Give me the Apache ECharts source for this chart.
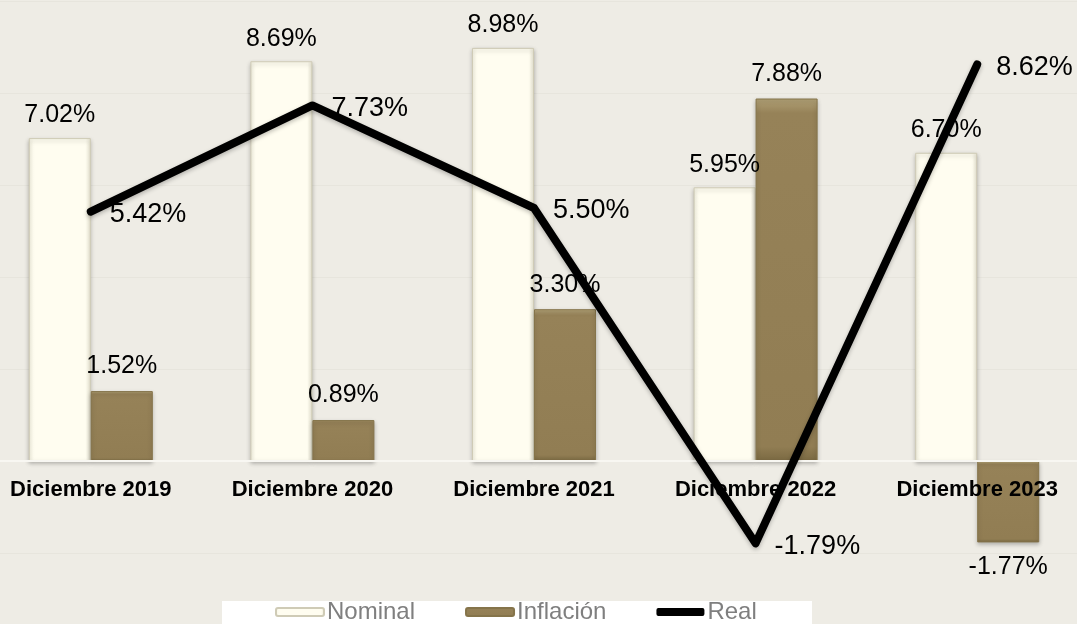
<!DOCTYPE html>
<html>
<head>
<meta charset="utf-8">
<script src="https://cdn.jsdelivr.net/npm/echarts@6/dist/echarts.min.js"></script>
<style>
html,body{margin:0;padding:0;background:#EEECE5;}
#c{width:1077px;height:624px;}
</style>
</head>
<body>
<div id="c"></div>
<script>
const categories = ['Diciembre 2019', 'Diciembre 2020', 'Diciembre 2021', 'Diciembre 2022', 'Diciembre 2023'];
const nominal = [7.02, 8.69, 8.98, 5.95, 6.70];
const inflacion = [1.52, 0.89, 3.30, 7.88, -1.77];
const real = [5.42, 7.73, 5.50, -1.79, 8.62];

const fmt = p => p.value.toFixed(2) + '%';
const font = '"Liberation Sans", Arial, sans-serif';

const chart = echarts.init(document.getElementById('c'));
chart.setOption({
  backgroundColor: '#EEECE5',
  animation: false,
  textStyle: { fontFamily: font },
  graphic: [{
    type: 'rect', left: 222, top: 601, z: -1,
    shape: { width: 590, height: 30 },
    style: { fill: '#FFFFFF' }
  }],
  legend: {
    left: 275, top: 600, padding: 0,
    itemWidth: 48, itemHeight: 8, itemGap: 50,
    textStyle: { color: '#7F7F7F', fontSize: 24, fontFamily: font, padding: [0, 0, 0, -2] },
    data: [
      { name: 'Nominal' },
      { name: 'Inflación' },
      { name: 'Real', icon: 'roundRect' }
    ]
  },
  grid: { left: -20, right: -11, top: 1, bottom: 71, containLabel: false, outerBoundsMode: 'none' },
  xAxis: {
    type: 'category', data: categories, z: 4,
    position: 'bottom', offset: -92,
    axisLine: { show: true, onZero: false, lineStyle: { color: '#F8F7F2', width: 2 } },
    axisTick: { show: false },
    axisLabel: { color: '#000', fontSize: 22, fontWeight: 'bold', margin: 18, fontFamily: font }
  },
  yAxis: {
    type: 'value', min: -2, max: 10, interval: 2, show: true,
    axisLabel: { show: false }, axisLine: { show: false }, axisTick: { show: false },
    splitLine: { lineStyle: { color: '#E7E5DD', width: 1 } }
  },
  series: [
    {
      name: 'Nominal', type: 'bar', data: nominal, z: 2,
      barWidth: 62, barGap: '0%',
      itemStyle: {
        color: new echarts.graphic.LinearGradient(0, 0, 1, 0, [
          { offset: 0, color: '#F4F2E2' }, { offset: 0.08, color: '#FFFDF0' },
          { offset: 0.92, color: '#FFFDF0' }, { offset: 1, color: '#E9E6D4' }
        ]),
        borderColor: '#CFCBB6', borderWidth: 1,
        shadowColor: 'rgba(0,0,0,0.25)', shadowBlur: 4, shadowOffsetY: 2
      },
      label: { show: true, position: 'top', distance: 10, formatter: fmt, color: '#000', fontSize: 25, fontFamily: font }
    },
    {
      name: 'Inflación', type: 'bar', z: 2, data: inflacion.map(v => ({
        value: v,
        label: { position: v < 0 ? 'bottom' : 'top' }
      })),
      barWidth: 62,
      itemStyle: {
        color: new echarts.graphic.LinearGradient(0, 0, 0, 1, [
          { offset: 0, color: '#B2A277' }, { offset: 0.04, color: '#968258' },
          { offset: 0.96, color: '#917D53' }, { offset: 1, color: '#7A6942' }
        ]),
        borderColor: '#85744A', borderWidth: 1,
        shadowColor: 'rgba(0,0,0,0.25)', shadowBlur: 4, shadowOffsetY: 2
      },
      label: { show: true, distance: 12, formatter: fmt, color: '#000', fontSize: 25, fontFamily: font }
    },
    {
      name: 'Real', type: 'line', data: real, z: 5,
      symbol: 'circle', symbolSize: 2, showSymbol: true,
      itemStyle: { color: '#000' },
      lineStyle: { color: '#000', width: 8, cap: 'round', join: 'round',
        shadowColor: 'rgba(0,0,0,0.25)', shadowBlur: 4, shadowOffsetY: 2 },
      label: { show: true, position: 'right', distance: 18, offset: [0, 3], formatter: fmt, color: '#000', fontSize: 27, fontFamily: font }
    }
  ]
});
</script>
</body>
</html>
